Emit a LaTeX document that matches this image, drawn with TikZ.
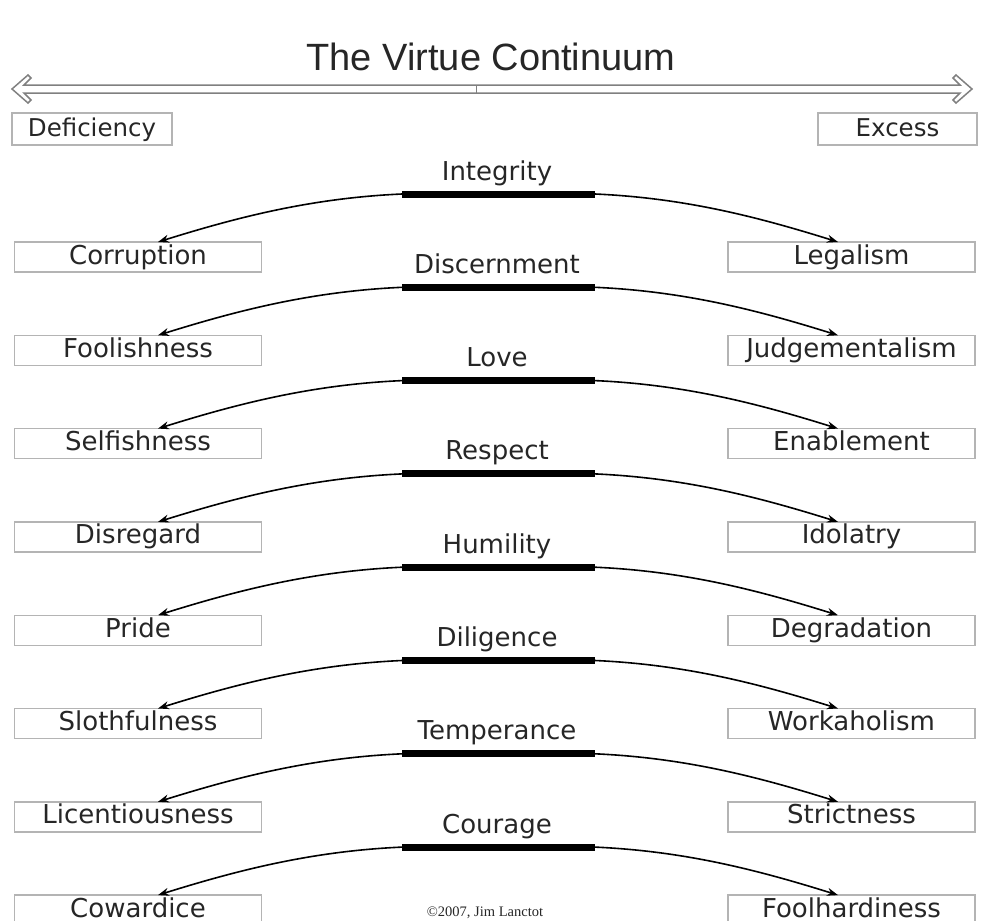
\documentclass[tikz,border=0pt]{standalone}
\usepackage{fontspec}
\setmainfont{DejaVu Sans}
\newfontfamily\titlefont{Liberation Sans}
\newfontfamily\notefont{Liberation Serif}
\usetikzlibrary{arrows.meta}
\definecolor{boxgray}{HTML}{B4B4B4}
\definecolor{ink}{HTML}{262626}
\tikzset{
  endbox/.style={draw=boxgray,line width=1.4pt,minimum width=247pt,minimum height=30pt,inner sep=0pt,
    text height=19pt,text depth=5pt,text=ink,font=\fontsize{26}{26}\selectfont},
  virtue/.style={anchor=base,text=ink,font=\fontsize{26}{26}\selectfont},
  pull/.style={line width=1.6pt,-{Stealth[length=11pt,width=8pt]}},
  meanbar/.style={line width=7pt}
}

\begin{document}
\begin{tikzpicture}[x=1pt,y=-1pt]
\useasboundingbox (0,0) rectangle (1007,921);
\clip (0,0) rectangle (1007,921);
% header
\node [anchor=base,text=ink,font=\titlefont\fontsize{38}{38}\selectfont] (title) at (491,70) {The Virtue Continuum};
\draw [gray,line width=1.5pt] (12,89) -- (28,75) -- (31,78) -- (24,85) -- (960,85) -- (953,78) -- (956,75)
  -- (972,89) -- (956,103) -- (953,100) -- (960,93) -- (24,93) -- (31,100) -- (28,103) -- cycle;
\draw [gray,line width=1pt] (476,85) -- (476,93);
\node [endbox,minimum width=160pt,minimum height=32pt,font=\fontsize{24.5}{24.5}\selectfont] (deficiency) at (92,129) {Deficiency};
\node [endbox,minimum width=159pt,minimum height=32pt,font=\fontsize{24.5}{24.5}\selectfont] (excess) at (897.5,129) {Excess};
% one row per virtue
\foreach \v/\l/\r [count=\i from 0] in {Integrity/Corruption/Legalism,Discernment/Foolishness/Judgementalism,
  Love/Selfishness/Enablement,Respect/Disregard/Idolatry,Humility/Pride/Degradation,
  Diligence/Slothfulness/Workaholism,Temperance/Licentiousness/Strictness,Courage/Cowardice/Foolhardiness}{
  \pgfmathsetmacro\y{194+93.3*\i}
  \draw [meanbar] (402,\y) coordinate (bw\i) -- (595,\y) coordinate (be\i);
  \node [virtue] (v\i) at (497,\y-14) {\v};
  \node [endbox] (l\i) at (138,\y+63) {\l};
  \node [endbox] (r\i) at (851.5,\y+63) {\r};
  \coordinate (lt\i) at (158,\y+48);
  \coordinate (rt\i) at (838,\y+48);
  \draw [pull] (bw\i) .. controls +(-90,4) and +(80,-25) .. (lt\i);
  \draw [pull] (be\i) .. controls +(90,4) and +(-80,-25) .. (rt\i);
}
\node [text=ink,font=\notefont\fontsize{14.5}{14.5}\selectfont] (note) at (485,913) {©2007, Jim Lanctot};
\end{tikzpicture}
\end{document}
